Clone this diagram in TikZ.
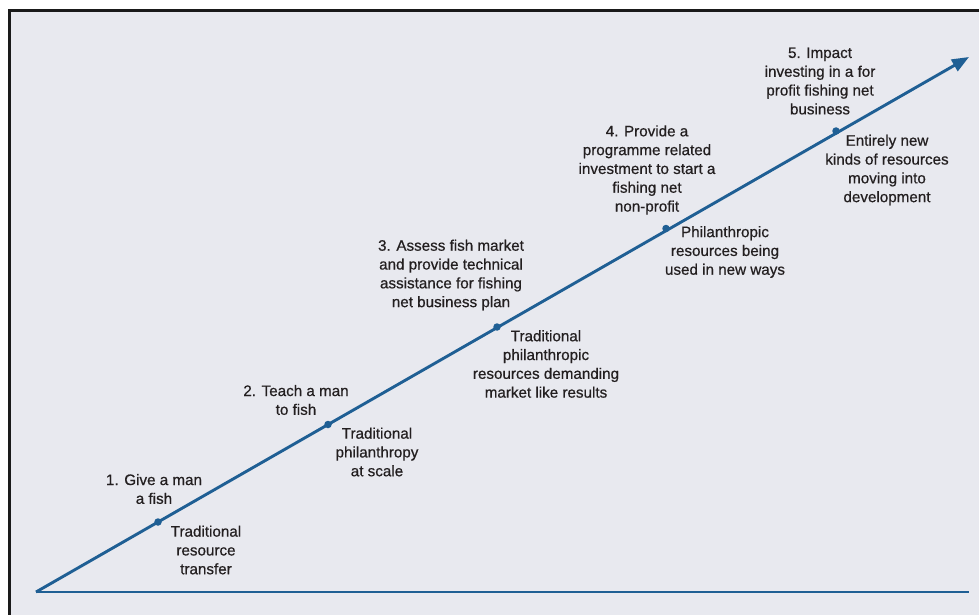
\documentclass[tikz,border=0pt]{standalone}
\usepackage{fontspec}
\setmainfont[FakeBold=0.6]{Liberation Sans}
\usetikzlibrary{arrows.meta}
\definecolor{bgc}{HTML}{E8E9EF}
\definecolor{linec}{HTML}{1F5F94}
\definecolor{txtc}{HTML}{231F20}
\definecolor{framec}{HTML}{1A1A1A}
\tikzset{
  lbl/.style={align=center, text=txtc, inner sep=0pt, font=\fontsize{15.2}{18.8}\selectfont},
  dotc/.style={circle, fill=linec, inner sep=0pt, minimum size=7.5pt},
  axis/.style={draw=linec, line width=2.9pt},
}
\begin{document}
\begin{tikzpicture}[x=1pt, y=-1pt]
\useasboundingbox (0,0) rectangle (979,615);
\fill[white] (0,0) rectangle (979,615);
\begin{scope}
\clip (0,0) rectangle (979,615);
\draw[draw=framec, fill=bgc, line width=2.4pt] (9.5,10.5) rectangle (990,630);
\end{scope}
\coordinate (o) at (36,592);
\coordinate (tip) at (969,57);
\coordinate (xe) at (969,592);
\draw[axis] (o) -- (xe);
\draw[axis, -{Triangle[length=17pt, width=13pt]}] (o) -- (tip);
\node[dotc] (d1) at (158,522) {};
\node[dotc] (d2) at (328,424.5) {};
\node[dotc] (d3) at (497,327) {};
\node[dotc] (d4) at (666,228.5) {};
\node[dotc] (d5) at (836,131) {};
\node[lbl] (a1) at (154,489) {1. Give a man\\a fish};
\node[lbl] (b1) at (206,550) {Traditional\\resource\\transfer};
\node[lbl] (a2) at (296,400) {2. Teach a man\\to fish};
\node[lbl] (b2) at (377,452) {Traditional\\philanthropy\\at scale};
\node[lbl] (a3) at (451,275) {3. Assess fish market\\and provide technical\\assistance for fishing\\net business plan};
\node[lbl] (b3) at (546,364) {Traditional\\philanthropic\\resources demanding\\market like results};
\node[lbl] (a4) at (647,170) {4. Provide a\\programme related\\investment to start a\\fishing net\\non-profit};
\node[lbl] (b4) at (725,252) {Philanthropic\\resources being\\used in new ways};
\node[lbl] (a5) at (820,81) {5. Impact\\investing in a for\\profit fishing net\\business};
\node[lbl] (b5) at (887,170) {Entirely new\\kinds of resources\\moving into\\development};
\end{tikzpicture}
\end{document}
